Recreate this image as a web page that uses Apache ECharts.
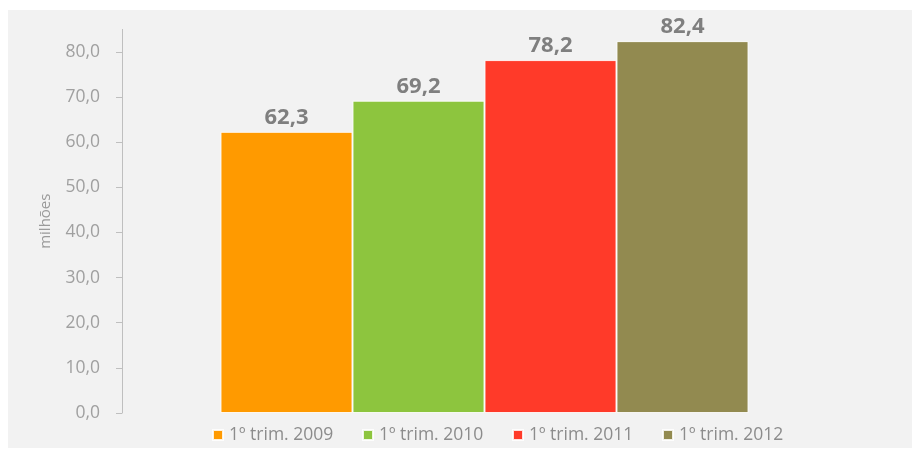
<!DOCTYPE html>
<html>
<head>
<meta charset="utf-8">
<script src="https://cdn.jsdelivr.net/npm/echarts@6/dist/echarts.min.js"></script>
<style>
  html, body { margin: 0; padding: 0; background: #ffffff; }
  #panel { position: absolute; left: 8px; top: 10px; width: 904px; height: 438px; background: #f2f2f2; }
  #chart { position: absolute; left: 0; top: 0; width: 915px; height: 452px; }
</style>
</head>
<body>
<div id="panel"></div>
<div id="chart"></div>
<script>
const seriesNames = ['1º trim. 2009', '1º trim. 2010', '1º trim. 2011', '1º trim. 2012'];
const seriesValues = [62.3, 69.2, 78.2, 82.4];
const seriesColors = ['#ff9a00', '#8dc53e', '#ff3a29', '#928a50'];
const yTicks = [0, 10, 20, 30, 40, 50, 60, 70, 80];
const axisName = 'milhões';

const fmt = v => v.toFixed(1).replace('.', ',');
const font = '"Open Sans", "Noto Sans", sans-serif';

const chart = echarts.init(document.getElementById('chart'), null, { renderer: 'canvas' });

const legendLefts = [212, 362, 512, 662];
const legends = seriesNames.map((n, i) => ({
  data: [n],
  left: legendLefts[i],
  top: 426,
  padding: 0,
  itemWidth: 10,
  itemHeight: 10,
  itemGap: 5,
  icon: 'rect',
  textStyle: { color: '#8c8c8c', fontSize: 17.5, fontFamily: font, padding: [0, 0, 0, 1] }
}));

chart.setOption({
  animation: false,
  backgroundColor: 'transparent',
  legend: legends,
  grid: { left: 122, right: 68, top: 29.4, bottom: 39, containLabel: false },
  xAxis: {
    type: 'category',
    data: [''],
    axisLine: { show: false },
    axisTick: { show: false },
    axisLabel: { show: false }
  },
  yAxis: {
    type: 'value',
    min: 0,
    max: 85,
    interval: 10,
    name: axisName,
    nameLocation: 'middle',
    nameGap: 69,
    nameTextStyle: { color: '#9a9a9a', fontSize: 15, fontFamily: font },
    axisLine: { show: true, lineStyle: { color: '#bfbfbf', width: 1 } },
    axisTick: { show: true, length: 6, lineStyle: { color: '#bfbfbf' }, customValues: yTicks },
    axisLabel: { color: '#a0a0a0', fontSize: 17.5, fontFamily: font, margin: 22, customValues: yTicks, formatter: v => fmt(v) },
    splitLine: { show: false }
  },
  series: seriesNames.map((n, i) => ({
    name: n,
    type: 'bar',
    data: [seriesValues[i]],
    barWidth: 132,
    barGap: '0%',
    itemStyle: { color: seriesColors[i], borderColor: 'rgba(255,255,255,0.85)', borderWidth: 1 },
    label: {
      show: true,
      position: 'top',
      distance: 3,
      color: '#7f7f7f',
      fontSize: 22,
      fontWeight: 'bold',
      fontFamily: font,
      formatter: p => fmt(p.value)
    }
  }))
});
</script>
</body>
</html>
